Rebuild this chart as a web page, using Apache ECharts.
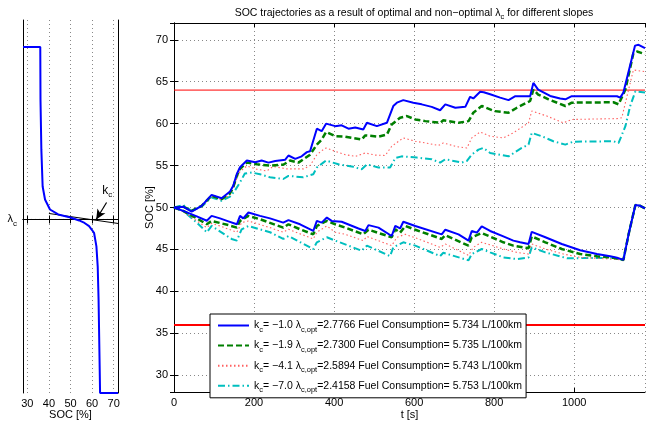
<!DOCTYPE html>
<html><head><meta charset="utf-8">
<script src="https://cdn.jsdelivr.net/npm/echarts@6/dist/echarts.min.js"></script>
<style>html,body{margin:0;padding:0;background:#fff}#c{width:659px;height:425px}</style>
</head><body><div id="c"></div>
<script>
// ---------- data ----------
const xTicksMain = [0, 200, 400, 600, 800, 1000];
const socLimits = [64, 36];
const upK1 = [[0,50],[23,50.1],[44,49.5],[69,50.2],[94,51.5],[119,51.1],[140,51.9],[148,52.6],[157,54.0],[165,54.8],[182,55.6],[203,55.4],[219,55.6],[236,55.35],[253,55.55],[278,55.7],[286,56.2],[303,55.8],[319,56.1],[332,56.6],[340,56.7],[357,59.4],[369,59.1],[380,60.0],[403,59.7],[419,59.8],[436,59.4],[453,59.55],[473,59.3],[482,60.1],[507,59.7],[532,60.1],[548,62.1],[557,62.5],[573,62.8],[598,62.5],[619,62.3],[644,62.0],[665,61.6],[678,62.3],[703,61.9],[728,62.0],[740,63.2],[748,63.0],[765,63.8],[774,63.75],[790,63.5],[815,63.1],[836,62.8],[853,63.27],[890,63.27],[898,64.86],[910,64.06],[940,63.3],[965,63.0],[978,62.9],[994,63.27],[1107,63.27],[1115,63.1],[1123,63.7],[1152,69.3],[1161,69.4],[1177,69.0]];
const upK2 = [[0,50],[23,50.1],[44,49.6],[69,50.2],[94,51.4],[119,51.0],[140,51.7],[148,52.4],[157,53.8],[165,54.6],[182,55.35],[207,55.15],[240,55.0],[273,55.1],[290,55.6],[311,55.35],[340,56.3],[357,57.5],[369,58.1],[380,59.0],[403,58.5],[428,58.45],[469,58.1],[478,58.6],[511,58.45],[532,58.7],[544,59.9],[565,60.7],[582,60.9],[603,60.5],[628,60.3],[665,60.1],[673,60.4],[711,60.1],[736,60.3],[748,61.3],[769,62.1],[800,61.5],[836,61.3],[857,61.9],[890,62.7],[898,64.06],[910,63.47],[936,62.9],[978,62.1],[994,62.5],[1098,62.55],[1111,62.3],[1128,64.06],[1148,68.4],[1157,68.6],[1177,68.3]];
const upK3 = [[0,50],[23,50.1],[44,49.6],[69,50.1],[94,51.3],[119,50.9],[140,51.5],[148,52.2],[157,53.5],[165,54.3],[182,54.95],[207,54.56],[232,54.36],[248,54.9],[282,54.6],[323,54.6],[340,55.0],[357,56.3],[373,56.9],[380,57.1],[403,56.7],[428,56.3],[453,56.1],[478,56.5],[503,56.25],[528,56.2],[544,57.3],[573,58.3],[603,57.9],[628,57.7],[661,57.4],[673,57.7],[707,57.25],[732,57.1],[744,58.3],[765,59.0],[790,58.5],[823,58.3],[848,58.9],[886,60.1],[894,61.5],[932,60.9],[973,60.1],[994,60.5],[1107,60.6],[1119,60.7],[1136,64.06],[1148,66.4],[1177,66.2]];
const upK4 = [[0,50],[23,50.3],[44,49.6],[69,50.1],[94,51.2],[119,50.8],[140,51.3],[152,52.0],[165,53.0],[177,54.05],[194,54.17],[215,53.97],[240,53.6],[273,53.4],[286,53.77],[323,53.6],[348,53.97],[357,54.76],[373,55.35],[380,55.6],[411,55.15],[444,54.9],[469,54.56],[482,55.15],[511,54.76],[540,54.76],[553,55.9],[569,56.1],[607,55.95],[644,55.75],[665,55.35],[678,55.75],[719,55.35],[732,55.55],[744,56.3],[761,56.9],[773,57.1],[790,56.5],[836,56.1],[869,57.1],[886,57.5],[894,58.9],[919,58.5],[948,57.9],[978,57.5],[998,57.85],[1098,57.9],[1111,57.7],[1128,59.7],[1140,62.1],[1153,63.86],[1177,63.7]];
const downK1 = [[0,50],[23,49.6],[57,48.94],[82,48.42],[94,49.0],[115,48.7],[136,48.35],[157,48.0],[165,49.0],[173,48.7],[186,49.4],[215,49.0],[240,48.7],[273,48.2],[286,48.5],[315,48.0],[348,47.2],[357,48.4],[369,48.2],[382,48.8],[394,48.4],[419,48.3],[461,47.5],[478,47.2],[486,47.9],[511,47.6],[544,46.6],[553,47.8],[565,47.5],[573,48.3],[603,47.8],[669,46.8],[678,47.35],[711,46.8],[736,46.05],[744,47.2],[757,47.0],[769,47.75],[790,47.2],[823,46.55],[848,46.05],[865,45.85],[886,45.65],[894,47.1],[928,46.45],[969,45.65],[1015,44.9],[1057,44.45],[1090,44.2],[1107,44.0],[1123,43.75],[1136,46.8],[1153,50.3],[1165,50.2],[1177,49.9]];
const downK2 = [[0,50],[23,49.6],[57,48.7],[82,48.0],[94,48.4],[136,47.9],[157,47.6],[165,48.4],[186,49.0],[215,48.6],[273,47.6],[286,48.0],[315,47.4],[348,46.8],[357,47.8],[382,48.4],[403,48.0],[428,47.6],[473,46.8],[486,47.35],[544,46.45],[553,47.4],[565,47.0],[578,47.8],[603,47.35],[669,46.25],[678,46.7],[736,45.45],[744,46.45],[769,46.95],[823,45.85],[848,45.45],[886,45.15],[894,46.55],[928,45.85],[969,45.05],[1015,44.45],[1057,44.2],[1098,44.0],[1123,43.75],[1136,46.8],[1153,50.3],[1165,50.2],[1177,49.9]];
const downK3 = [[0,50],[23,49.5],[57,48.4],[82,47.6],[94,48.1],[115,47.8],[157,47.05],[169,48.2],[186,48.4],[240,47.6],[273,47.05],[286,47.4],[348,46.25],[357,47.05],[382,47.8],[403,47.05],[428,46.8],[473,46.05],[482,46.55],[544,45.45],[557,46.45],[578,46.8],[611,46.25],[665,45.25],[678,45.65],[736,44.3],[748,45.25],[769,45.85],[823,45.05],[857,44.65],[886,44.45],[894,45.65],[928,45.05],[973,44.45],[1015,44.05],[1057,43.95],[1123,43.75],[1136,46.8],[1153,50.3],[1165,50.2],[1177,49.9]];
const downK4 = [[0,50],[23,49.6],[57,48.2],[82,47.05],[94,47.8],[144,46.25],[157,46.05],[169,47.4],[186,47.8],[240,47.05],[273,46.25],[286,46.6],[348,45.05],[357,45.85],[382,46.45],[403,46.05],[469,44.85],[482,45.45],[540,44.2],[548,45.25],[573,45.85],[603,45.45],[665,44.2],[673,44.6],[736,43.7],[744,44.45],[769,45.05],[790,44.65],[823,44.05],[857,43.85],[886,44.05],[894,45.25],[928,44.65],[982,43.95],[1057,43.98],[1098,44.0],[1123,43.75],[1136,46.8],[1153,50.3],[1165,50.2],[1177,49.9]];
const seriesNames = ['k1', 'k2', 'k3', 'k4'];
const kcValues = ['−1.0', '−1.9', '−4.1', '−7.0'];
const lambdaOpt = ['2.7766', '2.7300', '2.5894', '2.4158'];
const fuel = ['5.734', '5.735', '5.743', '5.753'];
// left panel: lambda(SOC) curve, lambda relative to lambda_c (arbitrary units)
const lambdaC = 0;
const lambdaCurve = [[28,1.73],[36,1.73],[36.1,1.2],[36.5,0.7],[37.1,0.33],[38.2,0.2],[40.5,0.1],[44.3,0.05],[50,0.02],[54,-0.01],[56.5,-0.035],[58.6,-0.067],[60.9,-0.133],[62,-0.27],[62.6,-0.47],[63,-0.8],[63.5,-1.47],[63.7,-1.74],[72,-1.74]];
const tangentLine = [[40,0.06],[72,-0.04]];
const socTicksLeft = [30, 40, 50, 60, 70];

// ---------- chart ----------
const FONT = 'Liberation Sans, Arial, Helvetica, sans-serif';
const chart = echarts.init(document.getElementById('c'), null, {renderer: 'canvas'});
const gridLine = {show: true, lineStyle: {color: '#888', type: [1, 3], width: 1}};
const axisLineBlack = {show: true, lineStyle: {color: '#000', width: 1}};
const tickIn = {show: true, inside: true, length: 4, lineStyle: {color: '#000'}};
const labelStyle = {color: '#000', fontSize: 11, fontFamily: FONT, formatter: v => String(v)};
const nameStyle = {color: '#000', fontSize: 11, fontFamily: FONT};
const subRich = {s: {fontSize: 7.5, fontFamily: FONT, color: '#000', padding: [8, 0, 0, 0]}};

const styles = [
  {color: '#0000ff', width: 2, type: 'solid'},
  {color: '#007f00', width: 2.5, type: [6, 3]},
  {color: '#ff6060', width: 1.1, type: [1.5, 2.5]},
  {color: '#00bfbf', width: 2, type: [7, 3, 1.5, 3]}
];
const upSets = [upK1, upK2, upK3, upK4];
const downSets = [downK1, downK2, downK3, downK4];
const series = [];
[3, 2, 1, 0].forEach(i => {
  [upSets[i], downSets[i]].forEach(d => {
    series.push({
      name: seriesNames[i], type: 'line', xAxisIndex: 0, yAxisIndex: 0,
      data: d, showSymbol: false, symbol: 'none', z: 3 + (3 - i),
      lineStyle: {color: styles[i].color, width: styles[i].width, type: styles[i].type},
      itemStyle: {color: styles[i].color}
    });
  });
});
socLimits.forEach((v, j) => {
  series.push({
    name: 'limit' + j, type: 'line', xAxisIndex: 0, yAxisIndex: 0,
    data: [[0, v], [1177, v]], symbol: 'none', z: 2,
    lineStyle: {color: '#ff0000', width: j === 0 ? 1 : 2}
  });
});
// left panel
series.push({
  name: 'lc', type: 'line', xAxisIndex: 2, yAxisIndex: 2,
  data: [[28, lambdaC], [72, lambdaC]], symbol: 'none',
  lineStyle: {color: '#000', width: 1, type: [1, 3]}
});
series.push({
  name: 'tangent', type: 'line', xAxisIndex: 2, yAxisIndex: 2,
  data: tangentLine, symbol: 'none', z: 3,
  lineStyle: {color: '#000', width: 1},
  markLine: {
    silent: true, symbol: ['none', 'arrow'], symbolSize: [7, 10],
    lineStyle: {color: '#000', width: 1.2, type: 'solid'}, label: {show: false},
    data: [[{coord: [66.7, 0.17]}, {coord: [61.9, 0.0]}]]
  },
  markPoint: {
    symbol: 'circle', symbolSize: 0,
    label: {show: true, formatter: '{m|k}{s|c}', rich: {m: {fontSize: 12, fontFamily: FONT, color: '#000'}, s: {fontSize: 8, fontFamily: FONT, color: '#000', padding: [9, 0, 0, 0]}}},
    data: [{coord: [67, 0.29]}]
  }
});
series.push({
  name: 'curve', type: 'line', xAxisIndex: 2, yAxisIndex: 2,
  data: lambdaCurve, symbol: 'none', z: 4,
  lineStyle: {color: '#0000ff', width: 2}
});

const legendText = {};
seriesNames.forEach((n, i) => {
  legendText[n] = 'k{s|c}= ' + kcValues[i] + ' λ{s|c,opt}=' + lambdaOpt[i] + ' Fuel Consumption= ' + fuel[i] + ' L/100km';
});

chart.setOption({
  animation: false,
  backgroundColor: '#fff',
  title: {
    text: 'SOC trajectories as a result of optimal and non−optimal λ{s|c} for different slopes',
    left: 409, top: 1, textAlign: 'center',
    textStyle: {fontSize: 10.5, fontWeight: 'normal', color: '#000', fontFamily: FONT, rich: {s: {fontSize: 7.5, fontFamily: FONT, color: '#000', padding: [7, 0, 0, 0]}}}
  },
  grid: [
    {left: 174, right: 14, top: 23, bottom: 31},
    {left: 23, width: 95, top: 20, bottom: 31}
  ],
  legend: {
    data: seriesNames, orient: 'vertical', left: 210, top: 314,
    itemWidth: 31, itemHeight: 12, itemGap: 6.6, padding: [6, 4, 4, 7],
    borderColor: '#000', borderWidth: 1, backgroundColor: '#fff',
    selectedMode: false, z: 10,
    itemStyle: {color: 'transparent', borderColor: 'transparent', borderWidth: 0, opacity: 0},
    formatter: n => legendText[n],
    textStyle: {color: '#000', fontSize: 10.5, fontFamily: FONT, rich: subRich}
  },
  xAxis: [
    {type: 'value', gridIndex: 0, min: 0, max: 1177, interval: 200,
     axisLine: axisLineBlack, axisTick: tickIn, splitLine: gridLine,
     axisLabel: Object.assign({margin: 5, showMaxLabel: false}, labelStyle),
     name: 't [s]', nameLocation: 'middle', nameGap: 17, nameMoveOverlap: false,
     nameTextStyle: nameStyle},
    {type: 'value', gridIndex: 0, position: 'top', min: 0, max: 1177, interval: 200,
     axisLine: axisLineBlack, axisTick: tickIn, splitLine: {show: false}, axisLabel: {show: false}},
    {type: 'value', gridIndex: 1, min: 28, max: 72, splitNumber: 4,
     axisLine: axisLineBlack, axisTick: tickIn, splitLine: gridLine,
     axisLabel: Object.assign({margin: 5, showMinLabel: false, showMaxLabel: false}, labelStyle),
     name: 'SOC [%]', nameLocation: 'middle', nameGap: 16, nameMoveOverlap: false,
     nameTextStyle: nameStyle},
    {type: 'value', gridIndex: 1, position: 'top', min: 28, max: 72, splitNumber: 4,
     axisLine: axisLineBlack, axisTick: tickIn, splitLine: {show: false}, axisLabel: {show: false}}
  ],
  yAxis: [
    {type: 'value', gridIndex: 0, min: 28, max: 72, splitNumber: 9,
     axisLine: axisLineBlack, axisTick: tickIn, splitLine: gridLine,
     axisLabel: Object.assign({margin: 6, showMinLabel: false, showMaxLabel: false}, labelStyle),
     name: 'SOC [%]', nameLocation: 'middle', nameGap: 19, nameMoveOverlap: false,
     nameTextStyle: nameStyle},
    {type: 'value', gridIndex: 0, position: 'right', min: 28, max: 72, splitNumber: 9,
     axisLine: axisLineBlack, axisTick: tickIn, splitLine: {show: false}, axisLabel: {show: false}},
    {type: 'value', gridIndex: 1, min: -1.74, max: 2,
     axisLine: axisLineBlack, axisTick: Object.assign({customValues: [lambdaC]}, tickIn), splitLine: {show: false},
     axisLabel: {customValues: [lambdaC], margin: 6, formatter: () => '{m|λ}{s|c}',
       rich: {m: {fontSize: 11, fontFamily: FONT, color: '#000'}, s: {fontSize: 8, fontFamily: FONT, color: '#000', padding: [8, 0, 0, 0]}}}},
    {type: 'value', gridIndex: 1, position: 'right', min: -1.74, max: 2,
     axisLine: axisLineBlack, axisTick: Object.assign({customValues: [lambdaC]}, tickIn), splitLine: {show: false}, axisLabel: {show: false}}
  ],
  series: series
});
</script></body></html>
